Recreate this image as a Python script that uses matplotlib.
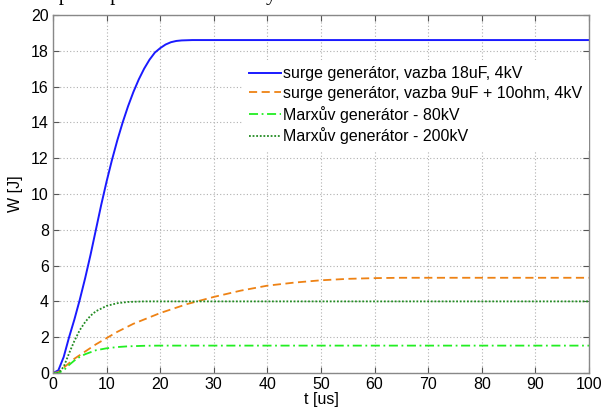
import matplotlib
matplotlib.use("Agg")
import matplotlib.pyplot as plt

plt.rcParams['font.family'] = ['Liberation Sans', 'DejaVu Sans']

# data
t_blue = [0, 1, 2, 3, 4, 5, 6, 7, 8, 9, 10, 11, 12, 13, 14, 15, 16, 17, 18, 19, 20, 21, 22, 23, 24, 26, 100]
w_blue = [0, 0.15, 0.9, 2.0, 3.0, 4.1, 5.3, 6.6, 8.0, 9.4, 10.7, 11.9, 13.0, 14.0, 14.9, 15.7, 16.4, 17.0, 17.5, 17.9, 18.15, 18.35, 18.48, 18.55, 18.58, 18.6, 18.6]

t_orange = [0, 1, 2, 3, 4, 5, 6, 8, 10, 12, 15, 20, 25, 30, 35, 40, 45, 50, 55, 60, 65, 100]
w_orange = [0, 0.05, 0.3, 0.55, 0.8, 1.0, 1.2, 1.6, 1.95, 2.3, 2.75, 3.35, 3.85, 4.25, 4.6, 4.88, 5.05, 5.18, 5.26, 5.3, 5.32, 5.32]

t_m80 = [0, 1, 2, 3, 4, 5, 6, 8, 10, 12, 14, 17, 20, 100]
w_m80 = [0, 0, 0.15, 0.45, 0.7, 0.9, 1.05, 1.27, 1.38, 1.45, 1.49, 1.52, 1.53, 1.53]

t_m200 = [0, 1, 2, 3, 4, 5, 6, 7, 8, 10, 12, 14, 17, 100]
w_m200 = [0, 0, 0.35, 1.1, 1.8, 2.4, 2.85, 3.2, 3.45, 3.75, 3.9, 3.97, 4.0, 4.0]

labels = ["surge generátor, vazba 18uF, 4kV",
          "surge generátor, vazba 9uF + 10ohm, 4kV",
          "Marxův generátor - 80kV",
          "Marxův generátor - 200kV"]

xticks = list(range(0, 101, 10))
yticks = list(range(0, 21, 2))

fig = plt.figure(figsize=(6.03, 4.08), dpi=100)
ax = fig.add_axes([53/603, 1 - 373/408, (589-53)/603, (373-15)/408])

ax.plot(t_blue, w_blue, color='#1a1aff', lw=1.4, linestyle='-', label=labels[0])
ax.plot(t_orange, w_orange, color='#ee8214', lw=1.3, linestyle=(0, (4.5, 2.5)), label=labels[1])
ax.plot(t_m80, w_m80, color='#22ee22', lw=1.3, linestyle=(0, (5, 2, 1, 2)), label=labels[2])
ax.plot(t_m200, w_m200, color='#228b22', lw=1.3, linestyle=(0, (1, 1)), label=labels[3])

ax.set_xlim(0, 100)
ax.set_ylim(0, 20)
ax.set_xticks(xticks)
ax.set_yticks(yticks)
ax.tick_params(direction='in', top=True, right=True, labelsize=11.5, length=4,
               color='#555555', pad=3)
for s in ax.spines.values():
    s.set_color('#888888')
    s.set_linewidth(1.0)
ax.grid(True, color='#b0b0b0', linestyle=(0, (1, 2)), linewidth=0.8)

ax.set_xlabel("t [us]", fontsize=11.5, labelpad=0)
ax.set_ylabel("W [J]", fontsize=11.5, labelpad=6)

leg = ax.legend(loc='upper right', bbox_to_anchor=(1.0, 0.875), fontsize=11.5,
                handlelength=2.0, handletextpad=0.15, labelspacing=0.3,
                frameon=True, fancybox=False, borderpad=0.4, borderaxespad=0.0)
leg.get_frame().set_edgecolor('none')
leg.get_frame().set_facecolor('white')
leg.get_frame().set_alpha(1.0)

fig.text(0.065, 1.012, "napětí a proudu ve současný.", fontsize=15,
         family=['Liberation Serif', 'DejaVu Serif'], va='center', ha='left')

fig.savefig("out.png", dpi=100, facecolor='white')
